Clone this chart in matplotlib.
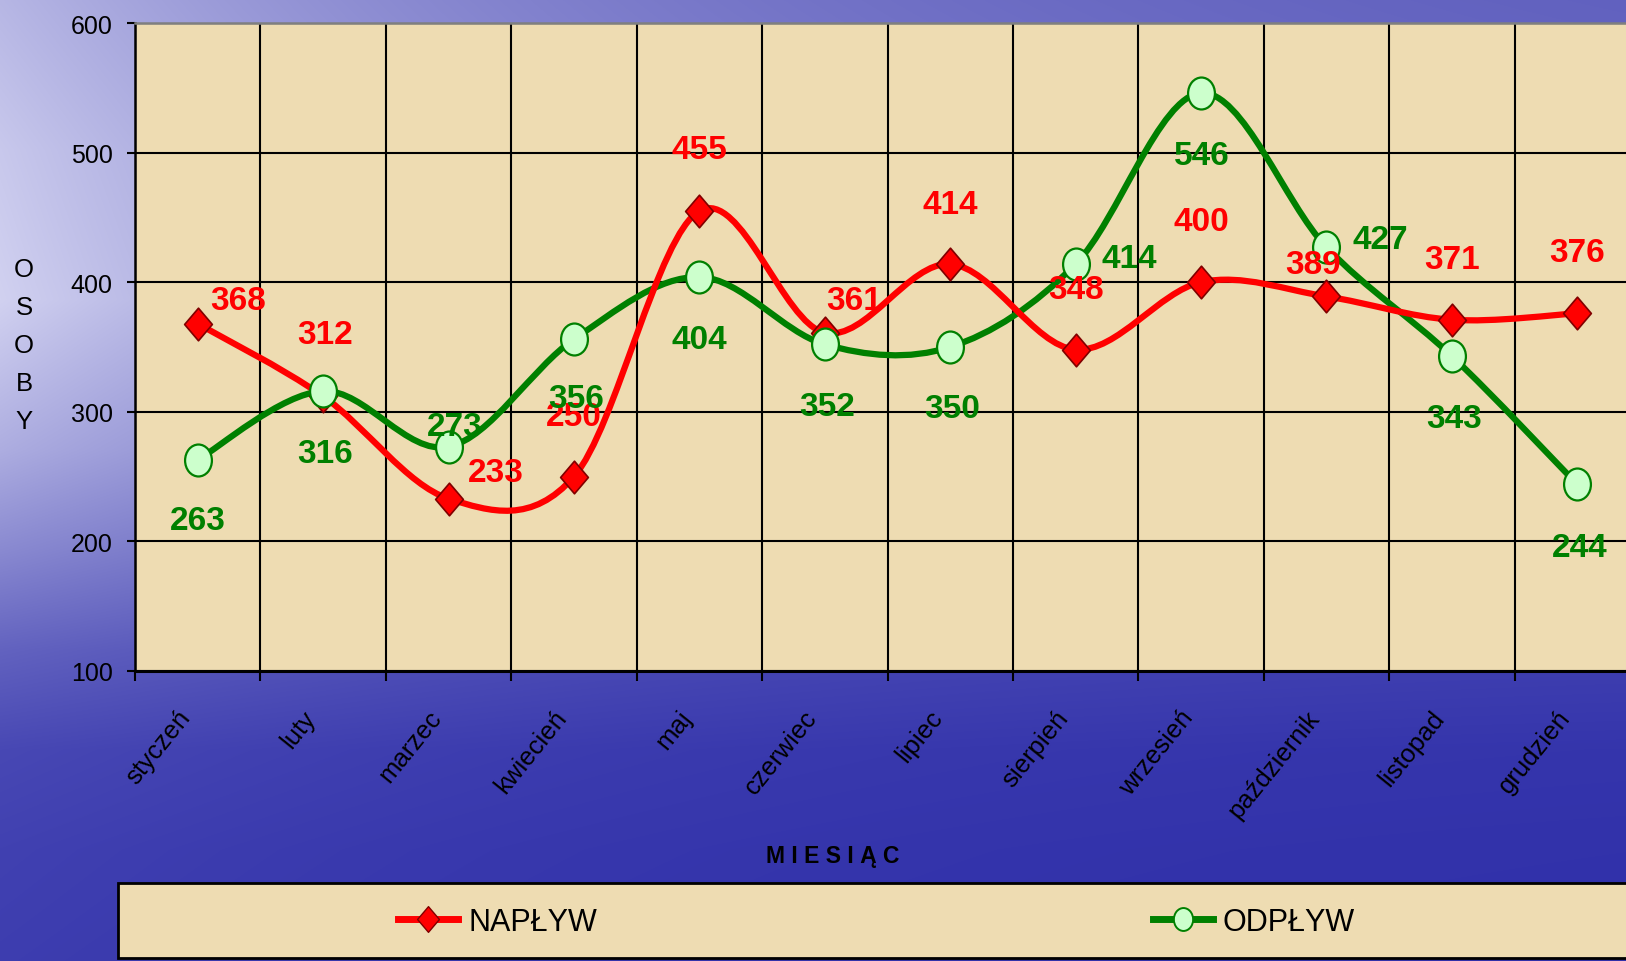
import numpy as np
import matplotlib
matplotlib.use('Agg')
import matplotlib.pyplot as plt
from matplotlib.path import Path
from matplotlib.patches import PathPatch, Rectangle
from matplotlib.lines import Line2D
from matplotlib.transforms import Affine2D
import matplotlib.font_manager as fm

# ---------------- data ----------------
months = ['styczeń', 'luty', 'marzec', 'kwiecień', 'maj', 'czerwiec', 'lipiec',
          'sierpień', 'wrzesień', 'październik', 'listopad', 'grudzień']
naplyw = [368, 312, 233, 250, 455, 361, 414, 348, 400, 389, 371, 376]
odplyw = [263, 316, 273, 356, 404, 352, 350, 414, 546, 427, 343, 244]
y_ticks = [100, 200, 300, 400, 500, 600]
series_names = ['NAPŁYW', 'ODPŁYW']
x_title = 'M I E S I Ą C'
y_title = 'OSOBY'

# label offsets (pixels, y up) - styling only
red_off = [(40, 23), (2, 62), (47, 26), (0, 60), (0, 61), (29, 32), (0, 60),
           (0, 60), (0, 61), (-13, 32), (0, 60), (0, 61)]
green_off = [(0, -61), (2, -62), (6, 20), (2, -59), (0, -62), (2, -62), (2, -61),
             (54, 6), (1, -63), (54, 8), (2, -62), (2, -63)]

# ---------------- fonts ----------------
avail = {f.name for f in fm.fontManager.ttflist}
NARROW = 'Liberation Sans Narrow' in avail
BASE = 'Liberation Sans' if 'Liberation Sans' in avail else 'DejaVu Sans'
plt.rcParams['font.family'] = [BASE, 'DejaVu Sans']
if NARROW:
    cond = ['Liberation Sans Narrow', BASE, 'DejaVu Sans']
    lab_fs, leg_fs = 27, 26
else:
    cond = [BASE, 'DejaVu Sans']
    lab_fs, leg_fs = 24, 22

RED = '#ff0000'
GREEN = '#008000'
BEIGE = '#eedcb2'

W, H = 1626, 962
fig = plt.figure(figsize=(W / 100, H / 100), dpi=100)

# background gradient (blue water look)
yy, xx = np.mgrid[0:H, 0:W]
a = np.interp(yy, [0, 150, 300, 450, 550, 650, 750, 850, 962],
              [0.80, 0.90, 0.95, 0.75, 0.55, 0.33, 0.18, 0.14, 0.12])
b = 0.36 + 0.64 * np.exp(-xx / 600.0)
t = (a * b)[..., None]
deep = np.array([40, 40, 166]) / 255.0
pale = np.array([218, 218, 244]) / 255.0
bg = deep + t * (pale - deep)
fig.figimage(bg, xo=0, yo=0, origin='upper', zorder=-10)

# axes (right edge runs slightly past the figure, as in the reference)
x0, x1, ytop, ybot = 135, 1640, 24, 672
ax = fig.add_axes([x0 / W, (H - ybot) / H, (x1 - x0) / W, (ybot - ytop) / H])
ax.set_facecolor(BEIGE)
n = len(months)
xs = np.arange(n) + 0.5
ax.set_xlim(0, n)
ax.set_ylim(y_ticks[0], y_ticks[-1])

# grid & spines
ax.set_yticks(y_ticks)
ax.set_xticks(np.arange(n + 1))
ax.set_xticklabels([])
ax.grid(True, color='black', linewidth=1.5, zorder=1)
ax.set_axisbelow(True)
ax.spines['left'].set_linewidth(1.8)
ax.spines['bottom'].set_linewidth(2.2)
ax.spines['top'].set_color('#7f7f7f')
ax.spines['top'].set_linewidth(1.8)
ax.spines['right'].set_visible(False)
ax.tick_params(axis='y', direction='out', length=6, width=1.5, pad=10,
               labelsize=18, colors='black')
ax.tick_params(axis='x', direction='out', length=7.5, width=1.5)

# x tick labels (rotated)
for xi, lab in zip(xs, months):
    ax.annotate(lab, xy=(xi, 0), xycoords=('data', 'axes fraction'),
                xytext=(-12, -42), textcoords='offset pixels', rotation=51,
                rotation_mode='anchor', ha='right', va='center', fontsize=18.5,
                color='black', annotation_clip=False)


def smooth_path(xv, yv):
    P = np.column_stack([xv, yv]).astype(float)
    m = len(P)
    verts = [P[0]]
    codes = [Path.MOVETO]
    for i in range(m - 1):
        p0 = P[i - 1] if i > 0 else P[i]
        p1 = P[i]
        p2 = P[i + 1]
        p3 = P[i + 2] if i + 2 < m else P[i + 1]
        verts += [p1 + (p2 - p0) / 6.0, p2 - (p3 - p1) / 6.0, p2]
        codes += [Path.CURVE4] * 3
    return Path(verts, codes)


diamond = Path([(0, 1), (0.85, 0), (0, -1), (-0.85, 0), (0, 1)],
               [Path.MOVETO, Path.LINETO, Path.LINETO, Path.LINETO, Path.CLOSEPOLY])
ellipse = Affine2D().scale(0.84, 1.0).transform_path(Path.unit_circle())

LW = 4.5
ax.add_patch(PathPatch(smooth_path(xs, odplyw), fill=False, edgecolor=GREEN,
                       linewidth=LW, capstyle='round', joinstyle='round', zorder=3))
ax.add_patch(PathPatch(smooth_path(xs, naplyw), fill=False, edgecolor=RED,
                       linewidth=LW, capstyle='round', joinstyle='round', zorder=3.1))
ax.plot(xs, naplyw, linestyle='none', marker=diamond, markersize=23.5,
        markerfacecolor=RED, markeredgecolor='#800000', markeredgewidth=1.2, zorder=4)
ax.plot(xs, odplyw, linestyle='none', marker=ellipse, markersize=23,
        markerfacecolor='#ccffcc', markeredgecolor=GREEN, markeredgewidth=1.6, zorder=4.1)

for xi, v, off in zip(xs, naplyw, red_off):
    ax.annotate(str(v), xy=(xi, v), xytext=off, textcoords='offset pixels',
                ha='center', va='center', color=RED, fontsize=lab_fs,
                fontweight='bold', family=cond, zorder=6, annotation_clip=False)
for xi, v, off in zip(xs, odplyw, green_off):
    ax.annotate(str(v), xy=(xi, v), xytext=off, textcoords='offset pixels',
                ha='center', va='center', color=GREEN, fontsize=lab_fs,
                fontweight='bold', family=cond, zorder=6, annotation_clip=False)

# axis titles
fig.text(833 / W, 1 - 857 / H, x_title, ha='center', va='center',
         fontsize=16.5, fontweight='bold', family=cond, color='black')
for k, ch in enumerate(y_title):
    fig.text(24 / W, 1 - (270 + 38 * k) / H, ch, ha='center', va='center',
             fontsize=18.5, color='black')

# legend frame
fig.add_artist(Rectangle((118 / W, 1 - 959 / H), (1645 - 118) / W, (959 - 884) / H,
                         transform=fig.transFigure, facecolor=BEIGE,
                         edgecolor='black', linewidth=2.0, zorder=1))
handles = [
    Line2D([], [], color=RED, linewidth=5, marker=diamond, markersize=18.5,
           markerfacecolor=RED, markeredgecolor='#800000', markeredgewidth=1.0),
    Line2D([], [], color=GREEN, linewidth=5, marker=ellipse, markersize=16.5,
           markerfacecolor='#ccffcc', markeredgecolor=GREEN, markeredgewidth=1.4),
]
leg_px = leg_fs * 100 / 72.0
leg = fig.legend(handles, series_names, loc='center left',
                 bbox_to_anchor=(398 / W, 1 - 923 / H), ncol=2, frameon=False,
                 borderpad=0, borderaxespad=0, handlelength=60 / leg_px,
                 handletextpad=10 / leg_px, columnspacing=(1156 - 600) / leg_px,
                 prop={'family': cond, 'size': leg_fs})
leg.set_zorder(2)

fig.savefig('out.png', dpi=100)
